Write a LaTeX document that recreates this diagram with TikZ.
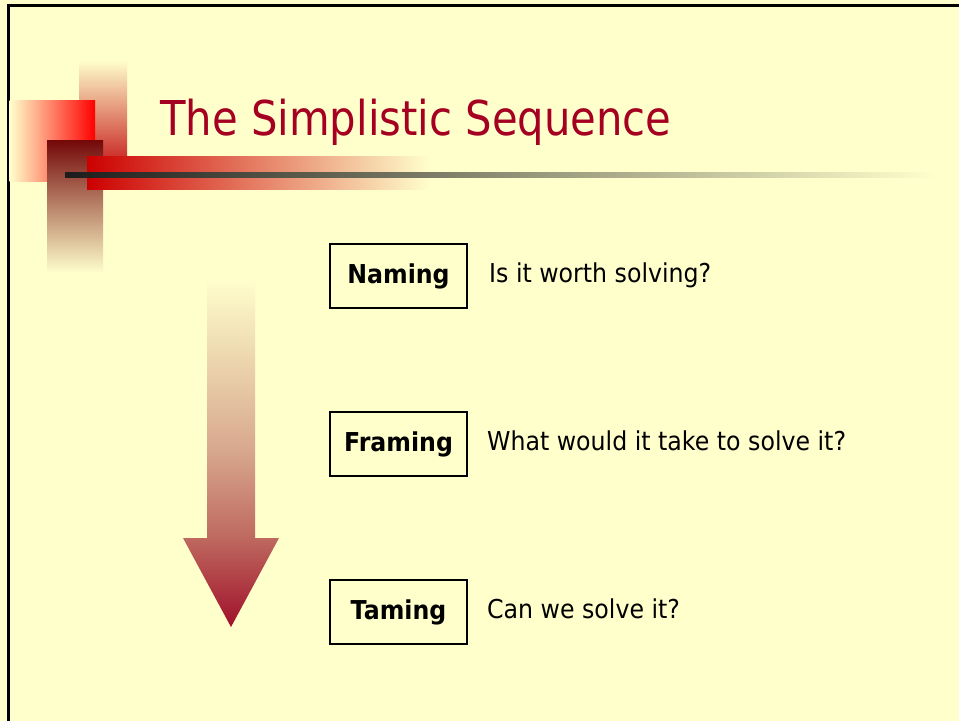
\documentclass[tikz,border=0pt]{standalone}
\usepackage{fontspec}
\setmainfont[FakeStretch=0.91]{DejaVu Sans}
\newfontfamily\titlefont[FakeStretch=0.87]{DejaVu Sans}
\definecolor{bg}{RGB}{255,255,204}
\definecolor{titlered}{RGB}{165,0,33}
\definecolor{arrowred}{RGB}{160,16,42}
\definecolor{arrowmid}{RGB}{190,105,95}
\definecolor{arrowupper}{RGB}{216,168,142}
\pgfdeclareverticalshading{arrowshade}{100bp}{color(0bp)=(arrowred); color(25bp)=(arrowred); color(37.75bp)=(arrowmid); color(50.4bp)=(arrowupper); color(75bp)=(bg); color(100bp)=(bg)}
\tikzset{
  stagebox/.style={draw=black, line width=2pt, minimum width=137pt, minimum height=64pt, inner sep=0pt, font=\fontsize{26}{30}\selectfont\bfseries},
  question/.style={anchor=base west, inner sep=0pt, font=\fontsize{26}{30}\selectfont},
}
\begin{document}
\begin{tikzpicture}[x=1pt,y=-1pt]
\useasboundingbox (0,0) rectangle (959,721);
\fill[bg] (0,0) rectangle (959,721);
% frame lines (top and left)
\fill[black] (7,4) rectangle (959,6.5);
\fill[black] (7,4) rectangle (9.5,721);
% decoration
\shade[top color=bg, bottom color={rgb,255:red,204;green,51;blue,45}] (79,60) rectangle (127,156);
\shade[left color=bg, right color=red] (9.5,100) rectangle (95,181);
\shade[top color={rgb,255:red,115;green,8;blue,8}, bottom color=bg] (47,140) rectangle (103,273);
\shade[left color={rgb,255:red,204;green,0;blue,0}, right color=bg] (87,156) rectangle (430,189);
\shade[left color={rgb,255:red,28;green,28;blue,28}, right color=bg] (65,172) rectangle (935,177);
% title
\node[anchor=base west, inner sep=0pt, text=titlered, font=\titlefont\fontsize{48}{56}\selectfont] (title) at (160,135) {The Simplistic Sequence};
% arrow
\shade[shading=arrowshade] (207,278) -- (255,278) -- (255,538) -- (279,538) -- (231,627) -- (183,538) -- (207,538) -- cycle;
% stages
\node[stagebox] (naming) at (398.5,276) {\raisebox{-3pt}{Naming}};
\node[stagebox] (framing) at (398.5,444) {\raisebox{-3pt}{Framing}};
\node[stagebox] (taming) at (398.5,612) {\raisebox{-3pt}{Taming}};
\node[question] (q1) at (489,282) {Is it worth solving?};
\node[question] (q2) at (487,450) {What would it take to solve it?};
\node[question] (q3) at (487,618) {Can we solve it?};
\end{tikzpicture}
\end{document}
